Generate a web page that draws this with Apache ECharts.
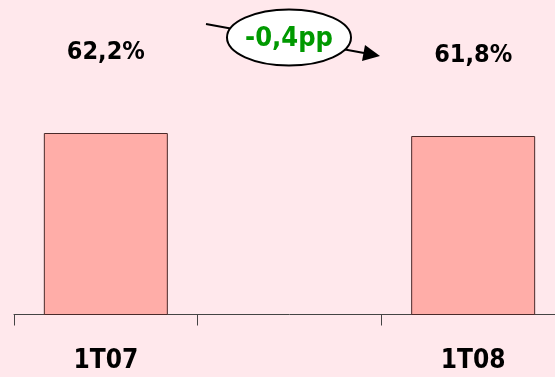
<!DOCTYPE html>
<html><head><meta charset="utf-8">
<script src="https://cdn.jsdelivr.net/npm/echarts@6/dist/echarts.min.js"></script>
<style>html,body{margin:0;padding:0;background:#FFE8EC;overflow:hidden;}#c{width:575px;height:377px;}</style>
</head><body><div id="c"></div>
<script>
const categories = ['1T07', '', '1T08'];
const values = [62.2, null, 61.8];
const deltaLabel = '-0,4pp';

const fmt = v => v.toFixed(1).replace('.', ',') + '%';
const chart = echarts.init(document.getElementById('c'), null, {renderer: 'canvas'});
const font = 'DejaVu Sans Condensed';
chart.setOption({
  backgroundColor: '#FFE8EC',
  animation: false,
  grid: {left: 14, width: 551, top: 22, bottom: 62.5},
  xAxis: {
    type: 'category', data: categories, boundaryGap: true,
    axisLine: {lineStyle: {color: '#444', width: 1}},
    axisTick: {show: true, interval: 0, length: 11, lineStyle: {color: '#444'}},
    axisLabel: {margin: 34, color: '#000', fontFamily: font, fontWeight: 'bold', fontSize: 26}
  },
  yAxis: {type: 'value', min: 38, max: 77, show: false, splitLine: {show: false}},
  series: [{
    type: 'bar', data: values, barWidth: 124,
    itemStyle: {color: '#FFADA8', borderColor: '#4a2a2a', borderWidth: 1},
    label: {show: true, position: 'top', distance: 68, formatter: p => fmt(p.value),
      color: '#000', fontFamily: font, fontWeight: 'bold', fontSize: 25}
  }],
  graphic: [
    {type: 'line', shape: {x1: 206, y1: 24, x2: 364, y2: 53}, style: {stroke: '#000', lineWidth: 2}, z: 10},
    {type: 'polygon', shape: {points: [[380, 56], [362, 61], [365, 45]]}, style: {fill: '#000'}, z: 10},
    {type: 'ellipse', shape: {cx: 289, cy: 37.5, rx: 62, ry: 28}, style: {fill: '#fff', stroke: '#000', lineWidth: 2}, z: 11},
    {type: 'text', x: 289, y: 39, z: 12, style: {text: deltaLabel, fill: '#009900', font: 'bold 27px "DejaVu Sans Condensed"', align: 'center', verticalAlign: 'middle'}}
  ]
});
</script></body></html>
